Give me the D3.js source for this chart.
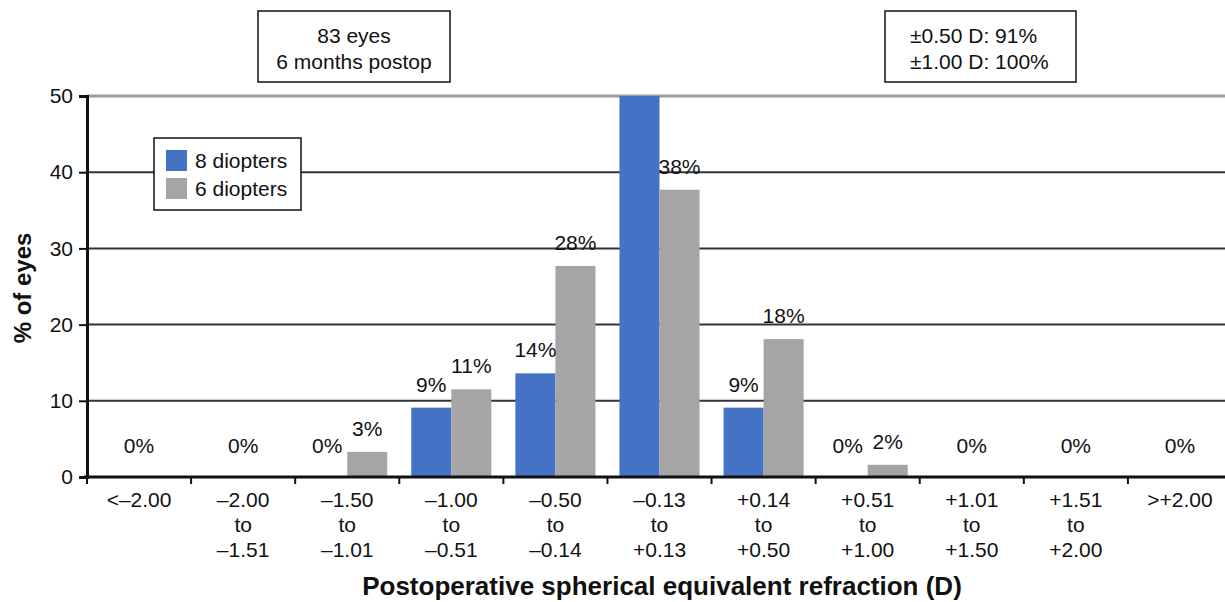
<!DOCTYPE html>
<html>
<head>
<meta charset="utf-8">
<script src="https://cdn.jsdelivr.net/npm/d3@7"></script>
<style>
  body { margin: 0; background: #fff; }
  svg { display: block; font-family: "Liberation Sans", Arial, sans-serif; }
</style>
</head>
<body>
<svg width="1225" height="602"></svg>
<script>
// refraction bins (multi-line labels)
var categories = [
  ["<\u20132.00"], ["\u20132.00", "to", "\u20131.51"], ["\u20131.50", "to", "\u20131.01"],
  ["\u20131.00", "to", "\u20130.51"], ["\u20130.50", "to", "\u20130.14"], ["\u20130.13", "to", "+0.13"],
  ["+0.14", "to", "+0.50"], ["+0.51", "to", "+1.00"], ["+1.01", "to", "+1.50"],
  ["+1.51", "to", "+2.00"], [">+2.00"]
];
var series = ["8 diopters", "6 diopters"];
var eight = [0, 0, 0, 9.1, 13.6, 50, 9.1, 0, 0, 0, 0];
var six = [0, 0, 3.3, 11.5, 27.7, 37.7, 18.1, 1.6, 0, 0, 0];
var eightLabels = ["0%", "0%", "0%", "9%", "14%", "", "9%", "0%", "0%", "0%", "0%"];
var sixLabels = ["", "", "3%", "11%", "28%", "38%", "18%", "2%", "", "", ""];
var yTicks = [0, 10, 20, 30, 40, 50];
var noteLeft = ["83 eyes", "6 months postop"];
var noteRight = ["\u00b10.50 D: 91%", "\u00b11.00 D: 100%"];

var BLUE = "#4472c4", GREY = "#a5a5a5";
var svg = d3.select("svg");

var x = d3.scaleBand().domain(d3.range(categories.length)).range([87, 1232]);
var y = d3.scaleLinear().domain([0, 50]).range([477, 96]);
var sub = d3.scaleBand().domain([0, 1]).range([0, x.bandwidth()]).paddingInner(0).paddingOuter(0.3);

// gridlines
svg.append("g").selectAll("line")
  .data(yTicks.filter(function(d){ return d > 0; }))
  .enter().append("line")
  .attr("x1", 87).attr("x2", 1225)
  .attr("y1", function(d){ return y(d); }).attr("y2", function(d){ return y(d); })
  .attr("stroke", function(d){ return d == 50 ? "#999" : "#333"; })
  .attr("stroke-width", function(d){ return d == 50 ? 3 : 2; });

// bars
var data = [eight, six];
var colors = [BLUE, GREY];
var barG = svg.append("g");
data.forEach(function(vals, s) {
  barG.selectAll(".bar" + s)
    .data(vals)
    .enter().append("rect")
    .attr("x", function(d, i){ return x(i) + sub(s); })
    .attr("width", sub.bandwidth())
    .attr("y", function(d){ return y(Math.min(d, 50)); })
    .attr("height", function(d){ return y(0) - y(Math.min(d, 50)); })
    .attr("fill", colors[s]);
});

// value labels
var labG = svg.append("g").attr("font-size", 21).attr("fill", "#111").attr("text-anchor", "middle");
[eightLabels, sixLabels].forEach(function(labs, s) {
  var items = labs.map(function(t, i){ return {t: t, i: i}; })
    .filter(function(d){ return d.t != ""; });
  labG.selectAll(".lab" + s)
    .data(items)
    .enter().append("text")
    .attr("x", function(d){
      var alone = s == 0 && sixLabels[d.i] == "";
      return alone ? x(d.i) + x.bandwidth() / 2 : x(d.i) + sub(s) + sub.bandwidth() / 2;
    })
    .attr("y", function(d){
      var v = data[s][d.i];
      return v > 0 ? y(v) - 16 : y(0) - 24;
    })
    .text(function(d){ return d.t; });
});

// y axis
var yAxis = svg.append("g")
  .attr("transform", "translate(87,0)")
  .call(d3.axisLeft(y).tickValues(yTicks).tickSize(8).tickPadding(6));
yAxis.select(".domain").attr("stroke", "#111").attr("stroke-width", 3);
yAxis.selectAll(".tick line").attr("stroke", "#111").attr("stroke-width", 2);
yAxis.selectAll("text").attr("font-size", 21).attr("fill", "#111")
  .attr("font-family", "Liberation Sans, Arial, sans-serif");

// x axis
svg.append("line")
  .attr("x1", 84).attr("x2", 1225).attr("y1", y(0)).attr("y2", y(0))
  .attr("stroke", "#111").attr("stroke-width", 3);
svg.append("g").selectAll("line")
  .data(d3.range(categories.length))
  .enter().append("line")
  .attr("x1", function(d){ return x(d); }).attr("x2", function(d){ return x(d); })
  .attr("y1", y(0)).attr("y2", y(0) + 7)
  .attr("stroke", "#111").attr("stroke-width", 2);

var xl = svg.append("g").attr("font-size", 21).attr("fill", "#111").attr("text-anchor", "middle");
xl.selectAll("text")
  .data(categories)
  .enter().append("text")
  .attr("transform", function(d, i){ return "translate(" + (x(i) + x.bandwidth() / 2) + ",507)"; })
  .each(function(d) {
    var t = d3.select(this);
    d.forEach(function(line, k) {
      t.append("tspan").attr("x", 0).attr("y", k * 25).text(line);
    });
  });

// axis titles
svg.append("text")
  .attr("x", 662).attr("y", 595)
  .attr("text-anchor", "middle").attr("font-size", 26).attr("font-weight", "bold").attr("fill", "#111")
  .text("Postoperative spherical equivalent refraction (D)");
svg.append("text")
  .attr("transform", "translate(31,288) rotate(-90)")
  .attr("text-anchor", "middle").attr("font-size", 24).attr("font-weight", "bold").attr("fill", "#111")
  .text("% of eyes");

// note boxes
function noteBox(x0, y0, w, h, lines, anchor, tx) {
  var g = svg.append("g");
  g.append("rect").attr("x", x0).attr("y", y0).attr("width", w).attr("height", h)
    .attr("fill", "#fff").attr("stroke", "#111").attr("stroke-width", 1.5);
  g.selectAll("text").data(lines).enter().append("text")
    .attr("x", tx).attr("y", function(d, i){ return y0 + 32 + i * 26; })
    .attr("text-anchor", anchor).attr("font-size", 21).attr("fill", "#111")
    .text(function(d){ return d; });
}
noteBox(258, 11, 192, 71, noteLeft, "middle", 354);
noteBox(885, 11, 191, 71, noteRight, "start", 910);

// legend
var leg = svg.append("g");
leg.append("rect").attr("x", 154).attr("y", 138).attr("width", 147).attr("height", 72)
  .attr("fill", "#fff").attr("stroke", "#111").attr("stroke-width", 1.5);
series.forEach(function(name, s) {
  leg.append("rect").attr("x", 166).attr("y", 150 + s * 28).attr("width", 21).attr("height", 21)
    .attr("fill", colors[s]);
  leg.append("text").attr("x", 195).attr("y", 168 + s * 28)
    .attr("font-size", 21).attr("fill", "#111").text(name);
});
</script>
</body>
</html>
